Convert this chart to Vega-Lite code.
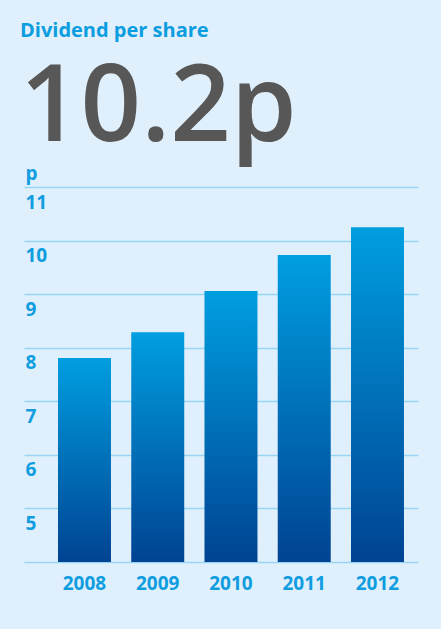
{
  "$schema": "https://vega.github.io/schema/vega-lite/v6.json",
  "width": 394,
  "height": 375,
  "autosize": {"type": "none"},
  "padding": {"left": 24, "top": 187, "right": 23, "bottom": 67},
  "background": "#dff0fc",
  "title": {
    "text": "Dividend per share",
    "subtitle": "10.2p",
    "anchor": "start",
    "frame": "group",
    "orient": "top",
    "font": "Open Sans",
    "fontSize": 20,
    "fontWeight": "bold",
    "color": "#0a9de0",
    "subtitleFont": "Open Sans",
    "subtitleFontSize": 106,
    "subtitleFontWeight": 600,
    "subtitleColor": "#575757",
    "subtitlePadding": 16,
    "offset": 2,
    "dx": -4
  },
  "data": {
    "values": [
      {"year": "2008", "dps": 7.81},
      {"year": "2009", "dps": 8.29},
      {"year": "2010", "dps": 9.06},
      {"year": "2011", "dps": 9.73},
      {"year": "2012", "dps": 10.25}
    ]
  },
  "mark": {
    "type": "bar",
    "color": {
      "gradient": "linear",
      "x1": 0, "y1": 0, "x2": 0, "y2": 1,
      "stops": [
        {"offset": 0, "color": "#009ee0"},
        {"offset": 1, "color": "#004392"}
      ]
    }
  },
  "encoding": {
    "x": {
      "field": "year",
      "type": "nominal",
      "scale": {"paddingInner": 0.2765, "paddingOuter": 0.3277, "align": 0.708},
      "axis": {
        "title": null,
        "labelAngle": 0,
        "labelFont": "Open Sans",
        "labelFontSize": 19,
        "labelFontWeight": "bold",
        "labelColor": "#109de0",
        "labelPadding": 12,
        "ticks": false,
        "tickSize": 0,
        "domain": false
      }
    },
    "y": {
      "field": "dps",
      "type": "quantitative",
      "scale": {"domain": [4, 11], "zero": false, "nice": false},
      "axis": {
        "title": "p",
        "titleAngle": 0,
        "titleX": 1,
        "titleY": -8,
        "titleAlign": "left",
        "titleBaseline": "alphabetic",
        "titleFont": "Open Sans",
        "titleFontSize": 19,
        "titleFontWeight": "bold",
        "titleColor": "#109de0",
        "values": [4, 5, 6, 7, 8, 9, 10, 11],
        "labelExpr": "datum.value == 4 ? '' : datum.label",
        "labelAlign": "left",
        "labelBaseline": "middle",
        "labelOffset": 15,
        "labelPadding": -1,
        "labelFlush": false,
        "labelOverlap": false,
        "labelFont": "Open Sans",
        "labelFontSize": 19,
        "labelFontWeight": "bold",
        "labelColor": "#109de0",
        "ticks": false,
        "tickSize": 0,
        "domain": false,
        "grid": true,
        "gridColor": "#97d5f3",
        "gridWidth": 1.5
      }
    },
    "y2": {"datum": 4}
  },
  "config": {
    "view": {"stroke": null}
  }
}
